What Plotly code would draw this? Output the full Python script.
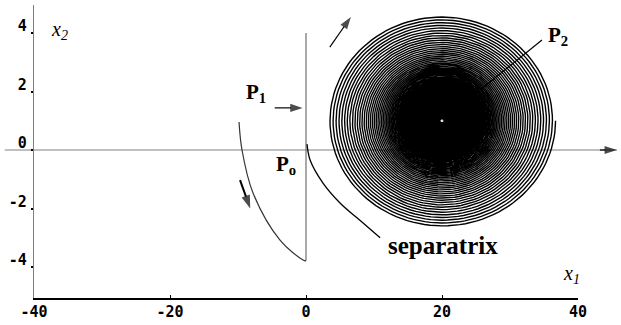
import numpy as np
import plotly.graph_objects as go

# ---- axis ticks -------------------------------------------------------
x_ticks = [-40, -20, 0, 20, 40]
y_ticks = [-4, -2, 0, 2, 4]
x_tick_text = ["-40", "-20", "0", "20", "40"]
y_tick_text = ["-4", "-2", "0", "2", "4"]

# ---- trajectories (x1, x2) ---------------------------------------------
# trajectory leaving P1 and sweeping down to the x1 = 0 switching line
left_traj_x1 = [-9.85, -9.41, -7.79, -3.82, -0.44, 0.0]
left_traj_x2 = [0.96, 0.0, -1.47, -3.08, -3.76, -3.79]

# switching line x1 = 0
switch_x1 = [0.0, 0.0]
switch_x2 = [4.0, -3.79]

# separatrix through Po
sep_x1 = [0.15, 0.6, 2.5, 5.0, 7.5, 10.9]
sep_x2 = [0.2, -0.34, -1.13, -1.81, -2.32, -3.0]

# unstable focus P2 and its outgoing spiral
spiral_center = (20.0, 1.0)
spiral_semi_axes = (16.7, 3.62)
spiral_turns = 140
spiral_inner = 0.02

# direction arrows: (tail x1, tail x2, head x1, head x2)
arrow_p1 = (-4.6, 1.44, -0.5, 1.44)
arrow_out = (3.5, 3.52, 6.6, 4.55)
arrow_down = (-9.7, -1.03, -8.2, -2.0)
pointer_p2 = (34.7, 3.76, spiral_center[0], spiral_center[1])

# ---- pixel frame of the phase plane ----------------------------------
W, H = 621, 325
X_PX0, X_SCALE = 306.0, 6.8      # pixel of x1 = 0, pixels per unit
Y_PX0, Y_SCALE = 150.0, 29.25    # pixel of x2 = 0, pixels per unit
x_full = [(0 - X_PX0) / X_SCALE, (W - X_PX0) / X_SCALE]
y_full = [(Y_PX0 - H) / Y_SCALE, Y_PX0 / Y_SCALE]
frame_x = [-40, 40]
frame_y = [-5.05, 4.96]
axis_line_x1 = [x_full[0] + 0.7, x_full[1] - 0.6]


def xfrac(v):
    return (X_PX0 + v * X_SCALE) / W


def yfrac(v):
    return 1 - (Y_PX0 - v * Y_SCALE) / H


theta = np.linspace(0, 2 * np.pi * spiral_turns, spiral_turns * 120)
rho = spiral_inner * (1 / spiral_inner) ** (theta / theta[-1])
spiral_x1 = spiral_center[0] + spiral_semi_axes[0] * rho * np.cos(theta)
spiral_x2 = spiral_center[1] + spiral_semi_axes[1] * rho * np.sin(theta)

fig = go.Figure()


def line(x, y, color, width, shape="linear"):
    fig.add_trace(go.Scatter(x=x, y=y, mode="lines", line_shape=shape,
                             line=dict(color=color, width=width), hoverinfo="skip"))


def arrow(seg, color="black", width=1.2, head=9):
    x0, y0, x1, y1 = seg
    fig.add_trace(go.Scatter(
        x=[x0, x1], y=[y0, y1], mode="lines+markers",
        line=dict(color=color, width=width),
        marker=dict(symbol="arrow", size=[0, head], angleref="previous",
                    color=color, line=dict(width=0)),
        hoverinfo="skip"))


# horizontal x2 = 0 line across the whole plane, with its arrowhead
line(axis_line_x1, [0, 0], "#808080", 1.2)
arrow((axis_line_x1[1] - 2.5, 0, axis_line_x1[1], 0), color="black", width=1.2, head=13)

line(switch_x1, switch_x2, "#707070", 1.2)
line(left_traj_x1, left_traj_x2, "#333333", 1.2, "spline")
line(sep_x1, sep_x2, "black", 1.3, "spline")
line(spiral_x1, spiral_x2, "black", 1.4)

arrow(arrow_p1, head=13)
arrow(arrow_out, head=13)
arrow(arrow_down, width=2, head=14)
arrow(pointer_p2, head=9)

# frame axes carrying the ticks
fig.add_trace(go.Scatter(x=[], y=[], xaxis="x2", yaxis="y2", hoverinfo="skip"))

tick_font = dict(family="DejaVu Sans Mono", size=15, color="black", weight="bold")

fig.update_layout(
    width=W, height=H,
    margin=dict(l=0, r=0, t=0, b=0, autoexpand=False),
    paper_bgcolor="white", plot_bgcolor="rgba(0,0,0,0)",
    showlegend=False,
    xaxis=dict(domain=[0, 1], range=x_full, visible=False, fixedrange=True, automargin=False),
    yaxis=dict(domain=[0, 1], range=y_full, visible=False, fixedrange=True, automargin=False),
    xaxis2=dict(domain=[xfrac(frame_x[0]), xfrac(frame_x[1])], range=frame_x, anchor="y2",
                showline=True, linecolor="black", linewidth=1.5, showgrid=False, zeroline=False,
                ticks="inside", ticklen=3, tickcolor="black", tickvals=x_ticks,
                ticktext=x_tick_text, tickfont=tick_font, fixedrange=True, automargin=False),
    yaxis2=dict(domain=[yfrac(frame_y[0]), yfrac(frame_y[1])], range=frame_y, anchor="x2",
                showline=True, linecolor="#808080", linewidth=1.2, showgrid=False, zeroline=False,
                ticks="outside", ticklen=2, tickcolor="black", tickwidth=2, tickvals=y_ticks,
                ticktext=y_tick_text, tickfont=tick_font, ticklabelshift=-7,
                ticklabelstandoff=1, fixedrange=True, automargin=False),
)

label_font = dict(family="Liberation Serif", size=21, color="black")
italic_font = dict(family="Liberation Serif", size=20, color="black")

fig.add_annotation(x=-7.4, y=1.95, xref="x", yref="y", showarrow=False,
                   text="<b>P</b><sub><b>1</b></sub>", font=label_font)
fig.add_annotation(x=-2.9, y=-0.5, xref="x", yref="y", showarrow=False,
                   text="<b>P</b><sub><b>o</b></sub>", font=label_font)
fig.add_annotation(x=37.0, y=3.9, xref="x", yref="y", showarrow=False,
                   text="<b>P</b><sub><b>2</b></sub>", font=label_font)
fig.add_annotation(x=11.7, y=-3.25, xref="x", yref="y", showarrow=False, xanchor="left",
                   text="<b>separatrix</b>",
                   font=dict(family="Liberation Serif", size=25, color="black"))
fig.add_annotation(x=-36.3, y=4.1, xref="x", yref="y", showarrow=False,
                   text="<i>x</i><sub><i>2</i></sub>", font=italic_font)
fig.add_annotation(x=39.0, y=-4.25, xref="x", yref="y", showarrow=False,
                   text="<i>x</i><sub><i>1</i></sub>", font=italic_font)

fig.write_html("out.html")
